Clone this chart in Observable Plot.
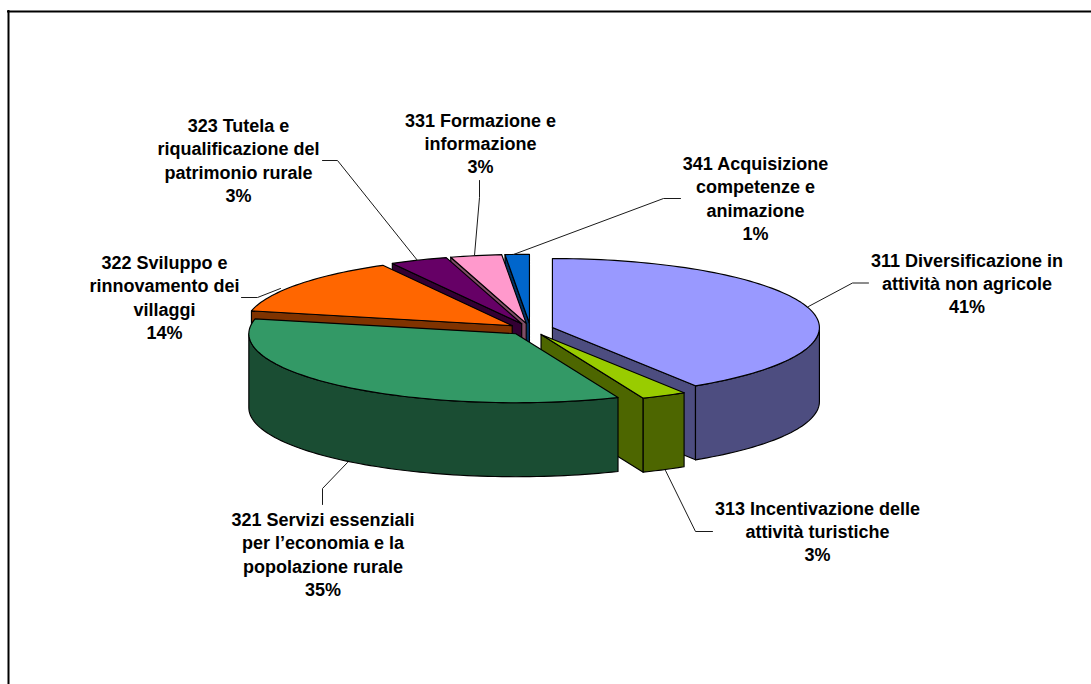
<!DOCTYPE html>
<html lang="it">
<head>
<meta charset="utf-8">
<style>html,body{margin:0;padding:0;background:#fff}svg{display:block}</style>
<script src="https://cdn.jsdelivr.net/npm/d3@7"></script>
<script src="https://cdn.jsdelivr.net/npm/@observablehq/plot@0.6"></script>
</head>
<body>
<div id="chart"></div>
<script>
// Data, clockwise from 12 o'clock
const names = [
  "311 Diversificazione in\nattività non agricole",
  "313 Incentivazione delle\nattività turistiche",
  "321 Servizi essenziali\nper l’economia e la\npopolazione rurale",
  "322 Sviluppo e\nrinnovamento dei\nvillaggi",
  "323 Tutela e\nriqualificazione del\npatrimonio rurale",
  "331 Formazione e\ninformazione",
  "341 Acquisizione\ncompetenze e\nanimazione"
];
const shares = [41, 2.75, 34.7, 13.5, 3.49, 3.1, 1.46];
const shareLabels = ["41%", "3%", "35%", "14%", "3%", "3%", "1%"];
const topColors = ["#9999FF", "#99CC00", "#339966", "#FF6600", "#660066", "#FF99CC", "#0066CC"];
const wallColors = ["#4D4D80", "#4D6600", "#1A4D33", "#803300", "#330033", "#804D66", "#003366"];

// Layout
const W = 1091, H = 684;
const cx = 530, cy = 328.7, rx = 267, ry = 69, depth = 74, explode = 0.0855;
const drawOrder = [6, 5, 4, 3, 0, 1, 2];
const labelX = [966.5, 817, 322.5, 164, 238, 480, 755];
const labelY = [282, 530, 553, 296, 159, 142, 197];
const leaderX = [[808, 852, 868], [665, 695, 712], [347, 322, 322], [280, 257, 241], [417, 337, 322], [474, 479, 479], [513, 663, 680]];
const leaderY = [[306, 282.5, 282.5], [470, 531, 531], [462, 488, 504], [288, 297, 297], [260, 160, 160], [255, 197, 180], [254, 198, 198]];

const total = d3.sum(shares);
const rad = d => d * Math.PI / 180;
let cum = 0;
const slices = shares.map((s, i) => {
  const a0 = cum / total * 360; cum += s;
  const a1 = cum / total * 360;
  const mid = rad((a0 + a1) / 2);
  return {i, a0, a1,
    ax: cx + explode * rx * Math.sin(mid),
    ay: cy - explode * ry * Math.cos(mid)};
});
function rim(sl, a0, a1, dy = 0) {
  const n = Math.max(2, Math.ceil((a1 - a0) / 1.5));
  return d3.range(n + 1).map(k => {
    const t = rad(a0 + (a1 - a0) * k / n);
    return {x: sl.ax + rx * Math.sin(t), y: sl.ay - ry * Math.cos(t) + dy};
  });
}
function closed(pts) { return [...pts, pts[0]]; }
const faceOpts = {x: "x", y: "y", stroke: "#000", strokeWidth: 1.15, strokeLinejoin: "round", curve: "linear"};
const marks = [];
for (const idx of drawOrder) {
  const sl = slices[idx];
  const apex = {x: sl.ax, y: sl.ay};
  const apexLow = {x: sl.ax, y: sl.ay + depth};
  const wall = wallColors[idx];
  // the radial wall that faces the viewer
  const visible = [];
  if (sl.a0 > 180) visible.push(sl.a0);
  if (sl.a1 <= 180) visible.push(sl.a1);
  for (const a of visible) {
    const [p] = rim(sl, a, a + 1);
    marks.push(Plot.line(closed([apex, p, {x: p.x, y: p.y + depth}, apexLow]), {...faceOpts, fill: wall}));
  }
  // outer wall, on the part of the rim that faces the viewer
  const w0 = Math.max(sl.a0, 90), w1 = Math.min(sl.a1, 270);
  if (w1 > w0) {
    marks.push(Plot.line(closed([...rim(sl, w0, w1), ...rim(sl, w0, w1, depth).reverse()]), {...faceOpts, fill: wall}));
  }
  // top
  marks.push(Plot.line(closed([apex, ...rim(sl, sl.a0, sl.a1)]), {...faceOpts, fill: topColors[idx]}));
}
// leaders
names.forEach((_, i) => {
  const pts = leaderX[i].map((x, k) => ({x, y: leaderY[i][k]}));
  marks.push(Plot.line(pts, {x: "x", y: "y", stroke: "#1a1a1a", strokeWidth: 1}));
});
// labels
const labels = names.map((n, i) => ({text: n + "\n" + shareLabels[i], x: labelX[i], y: labelY[i]}));
marks.push(Plot.text(labels, {
  x: "x", y: "y", text: "text", textAnchor: "middle", lineAnchor: "middle", lineHeight: 1.3,
  fontFamily: "Liberation Sans, Arial, sans-serif", fontWeight: "bold", fontSize: 18, fill: "#000"
}));
// frame: top and left only
marks.push(Plot.ruleY([11], {x1: 7, x2: W, stroke: "#000", strokeWidth: 2}));
marks.push(Plot.ruleX([8], {y1: 10, y2: H, stroke: "#000", strokeWidth: 2}));

const chart = Plot.plot({
  width: W, height: H, margin: 0,
  x: {domain: [0, W], range: [0, W], axis: null},
  y: {domain: [0, H], range: [0, H], axis: null},
  style: {background: "#fff"},
  marks
});
document.getElementById("chart").append(chart);
</script>
</body>
</html>
